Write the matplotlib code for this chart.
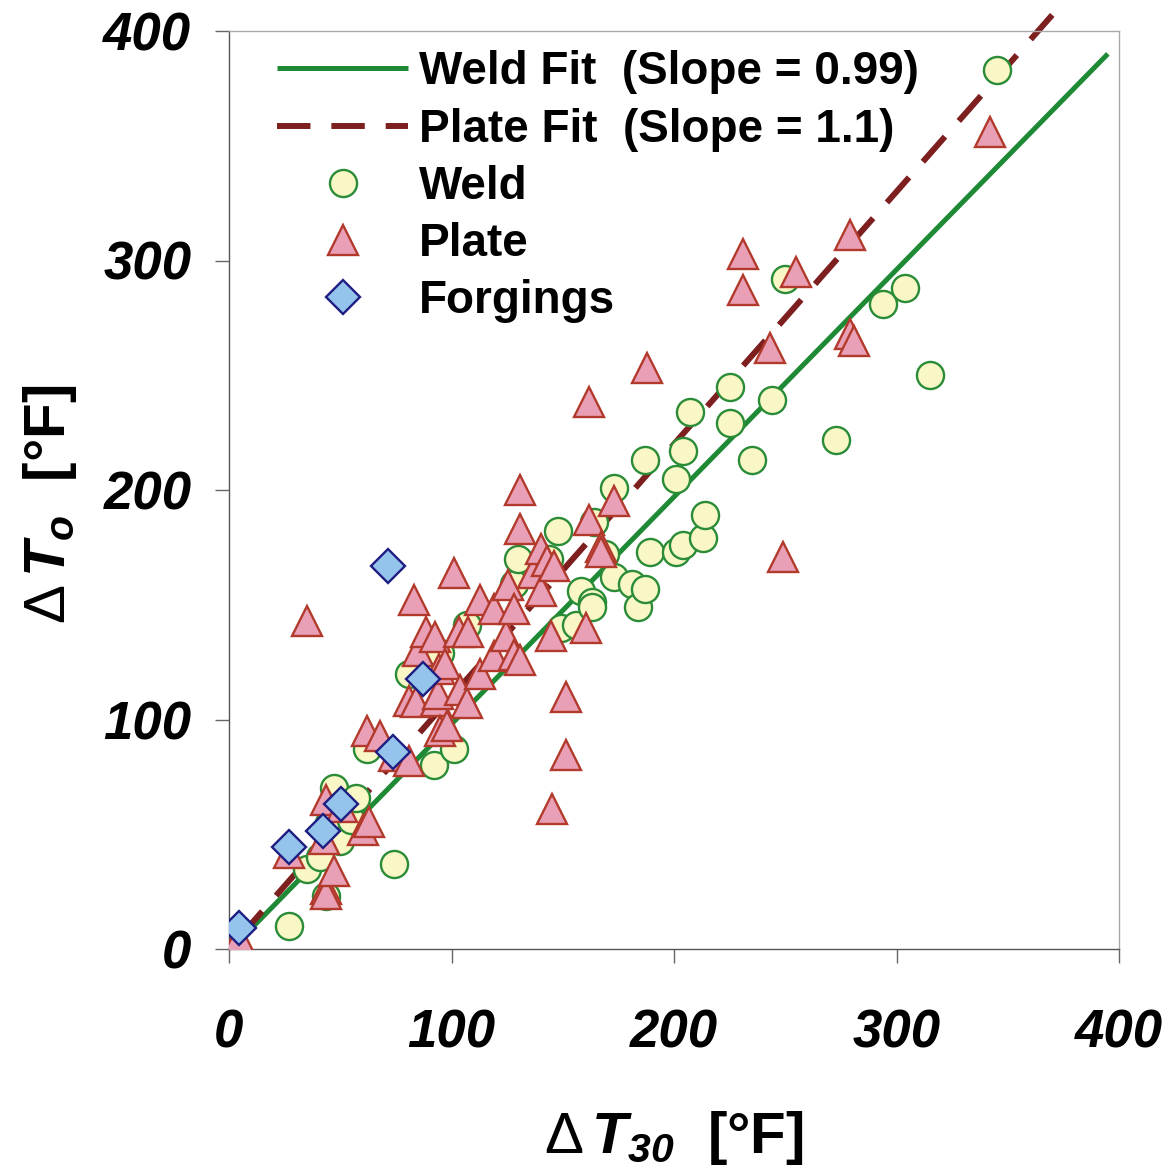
import matplotlib
matplotlib.use('Agg')
import matplotlib.pyplot as plt

plt.rcParams['font.family'] = ['Liberation Sans', 'DejaVu Sans']
plt.rcParams['mathtext.fontset'] = 'custom'
plt.rcParams['mathtext.rm'] = 'Liberation Sans'
plt.rcParams['mathtext.it'] = 'Liberation Sans:bold:italic'
plt.rcParams['mathtext.bf'] = 'Liberation Sans:bold:italic'

# Weld data (dT30, dTo)
weld_x = [27, 35, 41, 43.5, 45, 47, 50, 55, 57, 62, 74, 81, 92, 95, 101, 107,
          128, 130, 144, 148, 149, 156, 158, 163, 163, 164, 169, 173, 173, 181,
          184, 187, 187, 189, 201, 201, 204, 204, 207, 213, 214, 225, 225, 235,
          244, 250, 273, 294, 304, 315, 345]
weld_y = [10, 35, 40, 23, 55, 70, 47, 56, 66, 87, 37, 120, 80, 129, 87, 141,
          159, 170, 170, 182, 140, 141, 156, 151, 149, 186, 172, 162, 201, 159,
          149, 157, 213, 173, 173, 205, 176, 217, 234, 179, 189, 245, 229, 213,
          239, 292, 222, 281, 288, 250, 383]

# Plate data
plate_x = [4.5, 27, 35, 42.5, 43.5, 43.5, 43.5, 47, 51, 60, 63, 62, 68, 74, 81,
           81, 84, 83, 85, 88.5, 92.5, 93, 94, 94.5, 97, 95, 98, 101, 103.5,
           107.5, 104, 107, 113, 113, 119, 119, 124.5, 125.5, 128, 128, 131, 131,
           131, 136.5, 140, 140, 143, 146, 144.5, 145, 151.5, 151.5, 160.5, 162,
           162, 167, 167, 173, 188, 231, 231, 243, 249, 255, 279, 279, 281, 342]
plate_y = [5, 42, 143, 48, 65, 26, 24, 34, 62, 52, 55.5, 95, 93, 84, 82,
           108, 107.5, 152, 130, 138, 136, 108, 111, 122, 124, 95, 97, 164, 138,
           138, 113, 107, 152, 120, 148, 127.5, 136.5, 158.5, 148, 128, 200, 183,
           126, 164, 174.5, 156, 169, 167, 136.5, 61, 110, 84.5, 140, 238.5,
           187, 175, 173, 195, 253, 303, 287, 262, 171, 295, 311, 268, 265, 356]

# Forgings data
forg_x = [4.5, 27, 42.4, 50.3, 73.8, 87.3, 71.6]
forg_y = [9, 44.6, 51.4, 63, 86, 117.5, 167]

# Fits
weld_slope, weld_icpt, weld_range = 0.99, -1, (5, 395)
plate_slope, plate_icpt, plate_range = 1.1, 0, (5, 370)

fig = plt.figure(figsize=(11.72, 11.70), dpi=100)
ax = fig.add_axes([229 / 1172, 221 / 1170, 890 / 1172, 918 / 1170])

wx = list(weld_range)
ax.plot(wx, [weld_slope * v + weld_icpt for v in wx], color='#1F8A35', lw=3.6,
        solid_capstyle='butt', zorder=2, label='Weld Fit  (Slope = 0.99)')
px = list(plate_range)
ax.plot(px, [plate_slope * v + plate_icpt for v in px], color='#7D1F1F', lw=4.3,
        dashes=(5.6, 3.5), zorder=2, clip_on=False,
        label='Plate Fit  (Slope = 1.1)')

ax.plot(weld_x, weld_y, 'o', ms=19.5, mfc='#FAF7C6', mec='#2A8C36', mew=1.7,
        zorder=3, label='Weld')
ax.plot(plate_x, plate_y, '^', ms=21, mfc='#E9A0B6', mec='#B23A2C', mew=1.7,
        zorder=4, label='Plate')
ax.plot(forg_x, forg_y, 'D', ms=17, mfc='#94C3EC', mec='#1E1E82', mew=1.7,
        zorder=5, label='Forgings')

ax.set_xlim(0, 400)
ax.set_ylim(0, 400)
ax.set_xticks([0, 100, 200, 300, 400])
ax.set_yticks([0, 100, 200, 300, 400])
for lab in ax.get_xticklabels() + ax.get_yticklabels():
    lab.set_fontsize(38)
    lab.set_fontweight('bold')
    lab.set_fontstyle('italic')
ax.tick_params(axis='x', length=10, width=1, color='#666666', pad=33)
ax.tick_params(axis='y', length=10, width=1, color='#666666', pad=17)

for s in ['left', 'bottom']:
    ax.spines[s].set_color('#555555')
    ax.spines[s].set_linewidth(1)
for s in ['top', 'right']:
    ax.spines[s].set_color('#aaaaaa')
    ax.spines[s].set_linewidth(1)
    ax.spines[s].set_linestyle((0, (2, 1)))

ax.set_xlabel(r'$\Delta\,\mathbf{T}_{\mathbf{30}}$  [°F]', fontsize=42,
              fontweight='bold', va='center')
ax.xaxis.set_label_coords(0.5, -0.206)
ax.set_ylabel(r'$\Delta\,\mathbf{T}_{\mathbf{o}}$  [°F]', fontsize=42,
              fontweight='bold', va='center')
ax.yaxis.set_label_coords(-0.201, 0.484)

leg = ax.legend(loc='upper left', bbox_to_anchor=(0.054, 0.979), frameon=False,
                prop={'weight': 'bold', 'size': 33},
                handlelength=2.86, handletextpad=0.24, labelspacing=0.29,
                borderaxespad=0, borderpad=0, numpoints=1)

plt.savefig('out.png', dpi=100)
